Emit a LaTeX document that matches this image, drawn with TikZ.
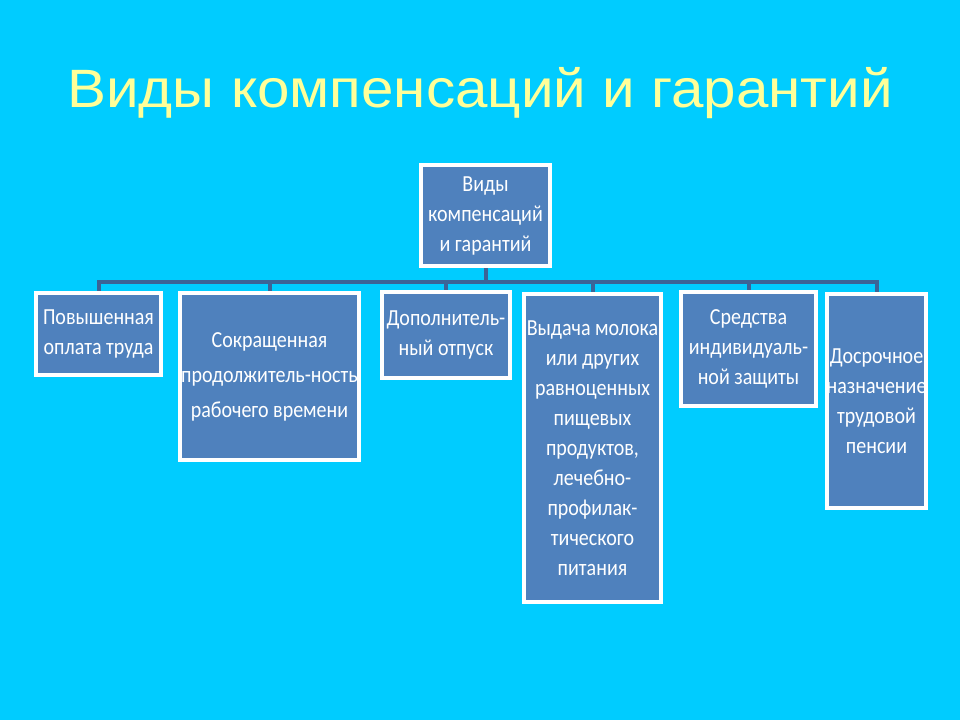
\documentclass[tikz,border=0pt]{standalone}
\usepackage{fontspec}
\setmainfont{Carlito}
\newfontfamily\boxfont[FakeStretch=0.87]{Carlito}
\newfontfamily\titlefont[FakeStretch=1.08]{Liberation Sans}
\definecolor{sky}{HTML}{00CCFF}
\definecolor{boxblue}{HTML}{4F81BD}
\definecolor{linkblue}{HTML}{3B6496}
\definecolor{titleyellow}{HTML}{FFFF99}
\begin{document}
\begin{tikzpicture}[x=1pt,y=-1pt,
    box/.style={draw=white, line width=4pt, fill=boxblue, text=white,
        align=center, inner sep=0pt, font=\boxfont\fontsize{23}{30}\selectfont},
    link/.style={draw=linkblue, line width=4pt}]
    \fill[sky] (0,0) rectangle (960,720);
    \node[anchor=base, text=titleyellow, font=\titlefont\fontsize{54}{60}\selectfont] (title) at (480,107) {Виды компенсаций и гарантий};
    % boxes
    \node[box, minimum width=129, minimum height=101] (top) at (485.5,215.5) {Виды\\компенсаций\\и гарантий};
    \node[box, minimum width=125, minimum height=82] (pay) at (98.5,334) {Повышенная\\оплата труда};
    \node[box, minimum width=179, minimum height=167, font=\boxfont\fontsize{23}{35}\selectfont] (hours) at (269.5,376.5) {Сокращенная\\продолжитель-ность\\рабочего времени};
    \node[box, minimum width=128, minimum height=86] (leave) at (446,335) {Дополнитель-\\ный отпуск};
    \node[box, minimum width=137, minimum height=308] (milk) at (592.5,448) {Выдача молока\\или других\\равноценных\\пищевых\\продуктов,\\лечебно-\\профилак-\\тического\\питания};
    \node[box, minimum width=135, minimum height=114] (ppe) at (748.5,349) {Средства\\индивидуаль-\\ной защиты};
    \node[box, minimum width=99, minimum height=214] (pension) at (876.5,401) {Досрочное\\назначение\\трудовой\\пенсии};
    % connectors
    \coordinate (bus) at (0,282);
    \draw[link] (top.south) -- (top.south |- bus);
    \foreach \b in {pay,hours,leave,milk,ppe,pension}
        \draw[link] (top.south |- bus) -| (\b.north);
\end{tikzpicture}
\end{document}
